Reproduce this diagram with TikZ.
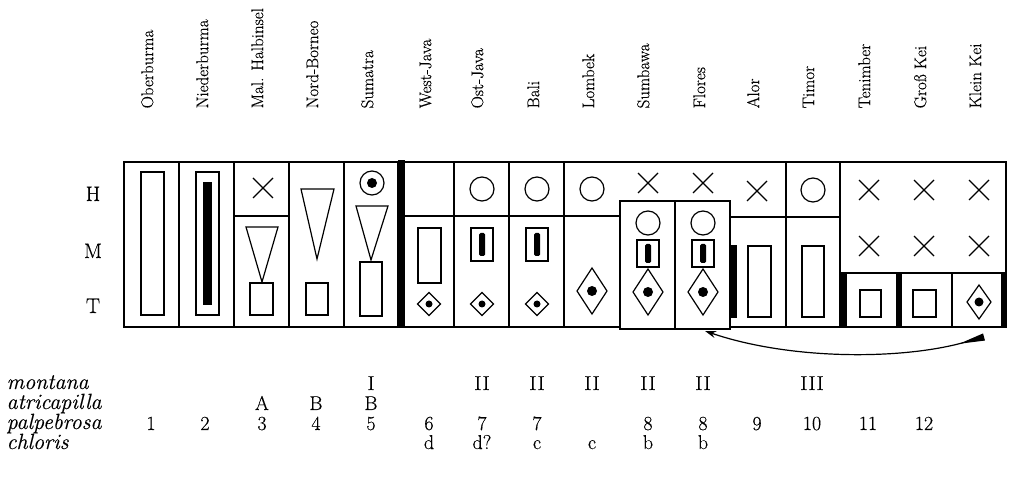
\documentclass[tikz,border=0pt]{standalone}
\usepackage{fontspec}
\setmainfont{Latin Modern Roman}[FakeBold=0.35]
\usepackage{graphicx}
\usetikzlibrary{arrows.meta}
\tikzset{
  crossx/.pic={\draw[line width=1.2pt] (-10,-10)--(10,10) (-10,10)--(10,-10);},
  ring/.pic={\draw[line width=1.2pt] (0,0) circle[radius=12];},
  ringdot/.pic={\draw[line width=1.2pt] (0,0) circle[radius=12]; \fill (0,0) circle[radius=5];},
  smalldia/.pic={\draw[line width=1.2pt] (0,-11.5)--(11.5,0)--(0,11.5)--(-11.5,0)--cycle; \fill (0,0) circle[radius=3.5];},
  bigdia/.pic={\draw[line width=1.2pt] (0,-23)--(15,0)--(0,23)--(-15,0)--cycle; \fill (0,0) circle[radius=5];},
  keidia/.pic={\draw[line width=1.2pt] (0,-17)--(12,0)--(0,17)--(-12,0)--cycle; \fill (0,0) circle[radius=4.5];},
}
\newcommand{\widetxt}[1]{\scalebox{1.15}[1]{#1}}
\begin{document}
\begin{tikzpicture}[x=1pt,y=-1pt, line width=1.3pt,
  cellbox/.style={draw, line width=1.3pt},
  bar/.style={fill=black, draw=none},
  inner/.style={draw, line width=1.2pt},
  islandlab/.style={font=\fontsize{17}{20}\selectfont, rotate=90, anchor=mid west, inner sep=0pt},
  rowlab/.style={font=\fontsize{21}{24}\selectfont, anchor=base, inner sep=0pt},
  entry/.style={font=\fontsize{20}{22}\selectfont, anchor=base, inner sep=0pt},
  species/.style={font=\fontsize{22}{24}\selectfont\itshape, anchor=base west, inner sep=0pt}]
\useasboundingbox (0,0) rectangle (1013,486);

% ---- island labels (rotated) ----
\foreach \cx/\name/\txt in {151/l1/Oberburma, 206/l2/Niederburma, 261/l3/Mal. Halbinsel,
  316/l4/Nord-Borneo, 371/l5/Sumatra, 429/l6/West-Java, 481/l7/Ost-Java, 537/l8/Bali,
  592/l9/Lombek, 647/l10/Sumbawa, 703/l11/Flores, 757/l12/Alor, 812/l13/Timor,
  868/l14/Tenimber, 924/l15/Groß Kei, 979/l16/Klein Kei}
  \node[islandlab] (\name) at (\cx,109) {\txt};

% ---- row labels ----
\node[rowlab] (rH) at (93,201) {H};
\node[rowlab] (rM) at (93,258) {M};
\node[rowlab] (rT) at (93,313) {T};

% ---- cells ----
\draw[cellbox] (124,162) rectangle (179,327);
\draw[cellbox] (179,162) rectangle (234,327);
\draw[cellbox] (234,162) rectangle (289,327);
\draw[cellbox] (234,216) -- (289,216);
\draw[cellbox] (289,162) rectangle (344,327);
\draw[cellbox] (344,162) rectangle (398,327);
\fill[bar] (398,160) rectangle (404.5,328.5);
\draw[cellbox] (404,162) rectangle (454,327);
\draw[cellbox] (454,162) rectangle (509,327);
\draw[cellbox] (509,162) rectangle (564,327);
\draw[cellbox] (564,162) -- (786,162);
\draw[cellbox] (564,327) -- (620,327);
\draw[cellbox] (404,216) -- (620,216);
\draw[cellbox] (730,327) -- (786,327);
\draw[cellbox] (730,217) -- (840,217);
\draw[cellbox] (786,162) rectangle (840,327);
\draw[cellbox] (620,201) rectangle (730,329);
\draw[cellbox] (675,201) -- (675,329);
\fill[bar] (731,245) rectangle (737,318);
\draw[cellbox] (840,162) rectangle (1006,327);
\draw[cellbox] (840,273) -- (1006,273);
\draw[cellbox] (952,273) -- (952,327);
\fill[bar] (840,273) rectangle (847,328);
\fill[bar] (896,273) rectangle (902,328);
\fill[bar] (1000.5,273) rectangle (1007,328);

% ---- col 1, 2 ----
\draw[inner] (141,172) rectangle (164,315);
\draw[inner] (196,172) rectangle (219,315);
\fill[bar] (203,182) rectangle (212,305);

% ---- col 3 Mal. Halbinsel ----
\pic at (263,188) {crossx};
\draw[inner] (246,227) -- (278,227) -- (262,282) -- cycle;
\draw[inner] (250,283) rectangle (273,315);

% ---- col 4 Nord-Borneo ----
\draw[inner] (301,189) -- (334,189) -- (317,259) -- cycle;
\draw[inner] (306,283) rectangle (328,315);

% ---- col 5 Sumatra ----
\pic at (372,183) {ringdot};
\draw[inner] (356,206) -- (388,206) -- (371,260) -- cycle;
\draw[inner] (360,262) rectangle (382,316);

% ---- col 6 West-Java ----
\draw[inner] (418,228) rectangle (441,283);
\pic at (429,304) {smalldia};

% ---- col 7, 8 Ost-Java, Bali ----
\foreach \cx in {482,537}{
  \pic at (\cx,189) {ring};
  \draw[inner] (\cx-11,228) rectangle (\cx+11,261);
  \fill[bar, rounded corners=1.5pt] (\cx-3,233) rectangle (\cx+3,256);
  \pic at (\cx,304) {smalldia};
}

% ---- col 9 Lombek ----
\pic at (592,189) {ring};
\pic at (592,291) {bigdia};

% ---- col 10, 11 Sumbawa, Flores ----
\foreach \cx in {648,703}{
  \pic at (\cx,183) {crossx};
  \pic at (\cx,223) {ring};
  \draw[inner] (\cx-11,240) rectangle (\cx+11,267);
  \fill[bar, rounded corners=1.5pt] (\cx-3,244) rectangle (\cx+3,263);
  \pic at (\cx,292) {bigdia};
}

% ---- col 12 Alor, 13 Timor ----
\pic at (757,191) {crossx};
\draw[inner] (748,246) rectangle (771,317);
\pic at (813,190) {ring};
\draw[inner] (802,246) rectangle (824,317);

% ---- Tenimber, Gross Kei, Klein Kei ----
\foreach \cx in {869,924,979}{
  \pic at (\cx,190) {crossx};
  \pic at (\cx,246) {crossx};
}
\draw[inner] (860,290) rectangle (881,317);
\draw[inner] (913,290) rectangle (936,317);
\pic at (979,302) {keidia};

% ---- arrow ----
\coordinate (kei) at (984,337);
\coordinate (flores) at (705,331);
\draw[line width=1.2pt, {Stealth[reversed,length=26pt,width=7pt,inset=0pt]}-{Stealth[length=11pt,width=7pt]}]
  (kei) .. controls (900,360) and (790,360) .. (flores);

% ---- species table ----
\node[species] (sp1) at (6,389) {montana};
\node[species] (sp2) at (6,409) {atricapilla};
\node[species] (sp3) at (6,429) {palpebrosa};
\node[species] (sp4) at (6,449) {chloris};

\foreach \cx/\t [count=\i] in {371/I, 482/II, 537/II, 592/II, 648/II, 703/II, 812/III}
  \node[entry] (mo\i) at (\cx,390) {\widetxt{\t}};
\foreach \cx/\t [count=\i] in {262/A, 316/B, 371/B}
  \node[entry] (at\i) at (\cx,410) {\t};
\foreach \cx/\t [count=\i] in {151/1, 205/2, 262/3, 316/4, 371/5, 429/6, 482/7, 537/7,
  648/8, 703/8, 757/9, 812/10, 868/11, 924/12}
  \node[entry] (pa\i) at (\cx,430) {\t};
\foreach \cx/\t [count=\i] in {429/d, 482/d?, 537/c, 592/c, 648/b, 703/b}
  \node[entry] (ch\i) at (\cx,449) {\t};
\end{tikzpicture}
\end{document}
